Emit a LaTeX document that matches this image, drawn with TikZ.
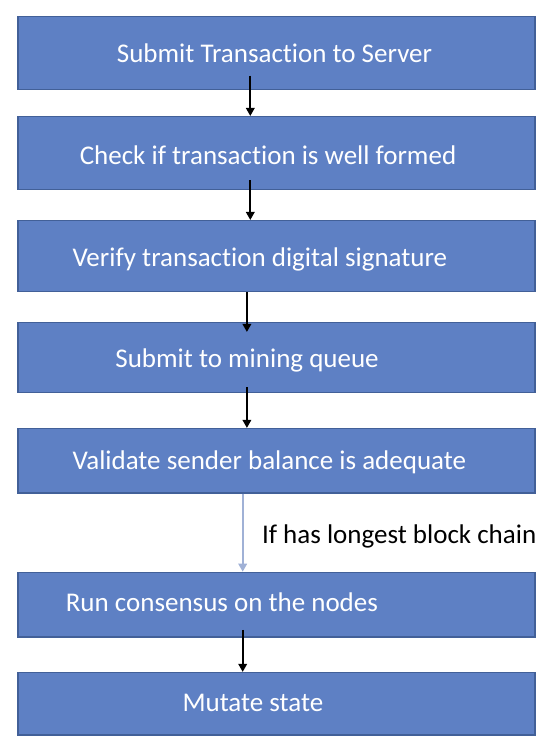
\documentclass[tikz,border=0pt]{standalone}
\usepackage{fontspec}
\setmainfont{Carlito}[Ligatures={NoCommon}]
\usetikzlibrary{arrows.meta}
\definecolor{boxfill}{RGB}{94,128,196}
\definecolor{boxline}{RGB}{66,96,152}
\definecolor{lightarr}{RGB}{160,177,214}
\begin{document}
\begin{tikzpicture}[x=1pt,y=-1pt]
 \tikzset{
  blk/.style={rectangle, draw=boxline, fill=boxfill, line width=1.5pt, minimum width=516.8pt, inner sep=0pt},
  txt/.style={anchor=base west, inner sep=0pt, font=\fontsize{27}{32}\selectfont},
  con/.style={-{Triangle[length=8pt,width=8.5pt]}, line width=1.8pt, black},
  conlt/.style={con, lightarr}
 }
 \useasboundingbox (0,0) rectangle (548,754);

 \foreach \n/\y/\h in {1/53/72.6, 2/153/72.6, 3/256.1/70.8, 4/357.5/69.6,
                       5/460.8/64.3, 6/604.6/64.3, 7/703.8/62.3}
  { \node [blk, minimum height=\h pt] (b\n) at (276.6,\y) {}; }

 \foreach \n/\x/\y/\t in {1/116.7/62.7/Submit Transaction to Server,
                          2/79.6/164.3/Check if transaction is well formed,
                          3/72.3/266.3/Verify transaction digital signature,
                          4/115.2/367.3/Submit to mining queue,
                          5/72.3/469.3/Validate sender balance is adequate,
                          6/65.6/611.5/Run consensus on the nodes,
                          7/182.3/711.7/Mutate state}
  { \node [txt, text=white] (t\n) at (\x,\y) {\t}; }

 \node [txt] (cond) at (261.9,543.3) {If has longest block chain};

 \draw [con] ([xshift=-26.3pt,yshift=14.3pt]b1.south) -- ([xshift=-26.3pt]b2.north);
 \draw [con] ([xshift=-26.3pt,yshift=10pt]b2.south) -- ([xshift=-26.3pt]b3.north);
 \draw [con] ([xshift=-29.7pt]b3.south) -- ([xshift=-29.7pt,yshift=-10pt]b4.north);
 \draw [con] ([xshift=-29.7pt,yshift=5.6pt]b4.south) -- ([xshift=-29.7pt]b5.north);
 \draw [conlt] ([xshift=-33.9pt]b5.south) -- ([xshift=-33.9pt]b6.north);
 \draw [con] ([xshift=-33.9pt,yshift=7.7pt]b6.south) -- ([xshift=-33.9pt]b7.north);
\end{tikzpicture}
\end{document}
